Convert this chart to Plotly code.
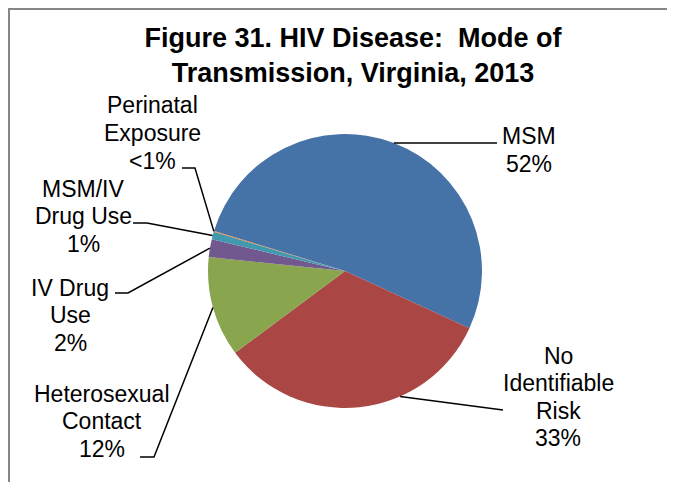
import math
import plotly.graph_objects as go

# data
categories = ['MSM', 'No Identifiable Risk', 'Heterosexual Contact',
              'IV Drug Use', 'MSM/IV Drug Use', 'Perinatal Exposure']
shares = [52.1, 32.9, 11.8, 2.1, 0.9, 0.1]
pct_labels = ['52%', '33%', '12%', '2%', '1%', '<1%']
label_lines = [['MSM'], ['No', 'Identifiable', 'Risk'], ['Heterosexual', 'Contact'],
               ['IV Drug', 'Use'], ['MSM/IV', 'Drug Use'], ['Perinatal', 'Exposure']]
colors = ['#4572A7', '#AA4643', '#89A54E', '#71588F', '#4198AF', '#DB843D']

W, H = 675, 482
OFF = 8  # page body margin
cx, cy, r = 345 - OFF, 271 - OFF, 137
rotation = -73
line_h = 27.5


def px(x, y):
    # page pixel -> paper coords
    return (x - OFF) / W, 1 - (y - OFF) / H


fig = go.Figure()
fig.add_trace(go.Pie(
    values=shares, labels=categories, sort=False, direction='clockwise',
    rotation=rotation, textinfo='none', showlegend=False,
    marker=dict(colors=colors, line=dict(width=0)),
    domain=dict(x=[(cx - r) / W, (cx + r) / W], y=[1 - (cy + r) / H, 1 - (cy - r) / H]),
))

# where each leader line touches the pie (fraction through the slice)
frac = [0.5, 0.35, 0.5, 0.5, 0.5, 0.5]
# leader line bends and label centres, page pixels
bends = [[(497, 143)], [(503, 410)], [(154, 457), (140, 457)],
         [(128, 293), (115, 293)], [(147, 223), (133, 223)], [(195, 168), (182, 168)]]
label_pos = [(529, 150), (558, 397), (102, 421), (70, 315), (83, 216), (152, 133)]

total = sum(shares)
start = rotation
for i, v in enumerate(shares):
    span = v / total * 360
    a = math.radians(start + span * frac[i])
    start += span
    edge = (cx + OFF + r * math.sin(a), cy + OFF - r * math.cos(a))
    pts = [edge] + bends[i]
    path = 'M ' + ' L '.join('%.4f,%.4f' % px(x, y) for x, y in pts)
    fig.add_shape(type='path', path=path, xref='paper', yref='paper',
                  line=dict(color='black', width=1.5))
    lines = label_lines[i] + [pct_labels[i]]
    x0, y0 = label_pos[i]
    for k, txt in enumerate(lines):
        lx, ly = px(x0, y0 + (k - (len(lines) - 1) / 2) * line_h)
        fig.add_annotation(x=lx, y=ly, xref='paper', yref='paper', showarrow=False,
                           text=txt,
                           font=dict(family='Liberation Sans, Arial', size=23, color='black'),
                           xanchor='center', yanchor='middle')

# chart area border
fig.add_shape(type='rect', xref='paper', yref='paper', x0=1 / W, y0=-0.1, x1=1.1, y1=1 - 1 / H,
              line=dict(color='#868686', width=2))

fig.update_layout(
    width=W, height=H,
    margin=dict(l=0, r=0, t=0, b=0),
    paper_bgcolor='white',
    title=dict(text='<b>Figure 31. HIV Disease:\u00a0 Mode of<br>Transmission, Virginia, 2013</b>',
               x=(353 - OFF) / W, xanchor='center', y=1 - 39 / H, yanchor='middle',
               font=dict(family='Liberation Sans, Arial', size=27, color='black')),
)

fig.write_html('out.html')
